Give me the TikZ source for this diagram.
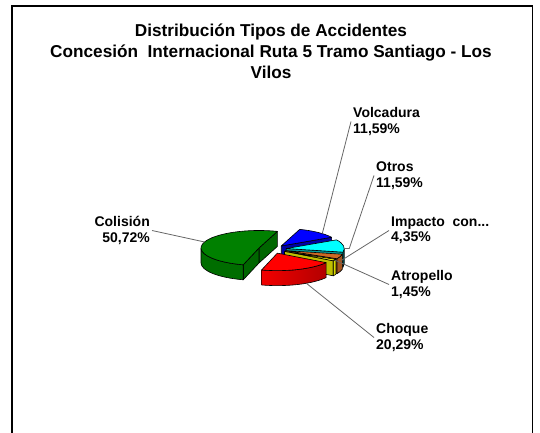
\documentclass[tikz,border=0pt]{standalone}
\usepackage{fontspec}
\setmainfont{Liberation Sans}
\usetikzlibrary{positioning}

\definecolor{cgreen}{RGB}{0,128,0}
\definecolor{cblue}{RGB}{0,0,255}
\definecolor{ccyan}{RGB}{0,255,255}
\definecolor{cbrown}{RGB}{205,105,35}
\definecolor{cyellow}{RGB}{255,255,0}
\definecolor{cred}{RGB}{255,0,0}

\tikzset{
  face/.style={draw=black, line width=0.6pt, line join=round},
  rim/.style={x radius=58pt, y radius=17.5pt},
  leader/.style={draw=black!60, line width=0.8pt},
  lbl/.style={font=\bfseries\fontsize{14}{15.5}\selectfont, inner sep=2pt},
  ttl/.style={font=\bfseries\fontsize{17.2}{20.8}\selectfont, inner sep=0pt, align=center},
}

\begin{document}
\begin{tikzpicture}[x=1pt, y=1pt]
    \useasboundingbox (0,0) rectangle (540,432);
    \clip (0,0) rectangle (540,432);

    % frame and title
    \draw[line width=1.8pt] (12,-10) rectangle (532.5,426);
    \node[ttl, anchor=north] (title) at (271,408)
        {Distribución Tipos de Accidentes\\Concesión\ \ Internacional Ruta 5 Tramo Santiago - Los\\Vilos};

    \begin{scope}[shift={(272.4,182.8)}]

        % Volcadura
        \begin{scope}[shift={(50.65:14pt and 4.2pt)}]
            \filldraw[face, fill=cblue!65!black] (0,0) -- (29.8:58pt and 17.5pt) -- ++(0,-15) -- (0,-15) -- cycle;
            \filldraw[face, fill=cblue] (0,0) -- (29.8:58pt and 17.5pt)
                arc[start angle=29.8, end angle=71.5, rim] -- cycle;
            \coordinate (pVolc) at (45:58pt and 17.5pt);
        \end{scope}

        % Colision
        \begin{scope}[shift={(162.85:14pt and 4.2pt)}]
            \filldraw[face, fill=cgreen!80!black] (0,0) -- (71.5:58pt and 17.5pt) -- ++(0,-15) -- (0,-15) -- cycle;
            \filldraw[face, fill=cgreen!80!black] (0,0) -- (254.2:58pt and 17.5pt) -- ++(0,-15) -- (0,-15) -- cycle;
            \filldraw[face, fill=cgreen!85!black] (180:58pt and 17.5pt)
                arc[start angle=180, end angle=254.2, rim] -- ++(0,-15)
                arc[start angle=254.2, end angle=180, rim] -- cycle;
            \filldraw[face, fill=cgreen] (0,0) -- (71.5:58pt and 17.5pt)
                arc[start angle=71.5, end angle=254.2, rim] -- cycle;
            \coordinate (pColis) at (160:58pt and 17.5pt);
        \end{scope}

        % Otros
        \begin{scope}[shift={(8.95:14pt and 4.2pt)}]
            \filldraw[face, fill=ccyan!60!black] (0,0) -- (-11.9:58pt and 17.5pt) -- ++(0,-15) -- (0,-15) -- cycle;
            \filldraw[face, fill=ccyan!75!black] (-11.9:58pt and 17.5pt)
                arc[start angle=-11.9, end angle=0, rim] -- ++(0,-15)
                arc[start angle=0, end angle=-11.9, rim] -- cycle;
            \filldraw[face, fill=ccyan] (0,0) -- (-11.9:58pt and 17.5pt)
                arc[start angle=-11.9, end angle=29.8, rim] -- cycle;
            \coordinate (pOtros) at (0:58pt and 17.5pt);
        \end{scope}

        % Impacto con...
        \begin{scope}[shift={(-19.75:14pt and 4.2pt)}]
            \filldraw[face, fill=cbrown!75!black] (0,0) -- (-27.6:58pt and 17.5pt) -- ++(0,-15) -- (0,-15) -- cycle;
            \filldraw[face, fill=cbrown!80!black] (-27.6:58pt and 17.5pt)
                arc[start angle=-27.6, end angle=-11.9, rim] -- ++(0,-15)
                arc[start angle=-11.9, end angle=-27.6, rim] -- cycle;
            \filldraw[face, fill=cbrown] (0,0) -- (-27.6:58pt and 17.5pt)
                arc[start angle=-27.6, end angle=-11.9, rim] -- cycle;
            \coordinate (pImpac) at (-16:58pt and 17.5pt);
        \end{scope}

        % Atropello
        \begin{scope}[shift={(-30.2:14pt and 4.2pt)}]
            \filldraw[face, fill=cyellow!75!black] (0,0) -- (-32.8:58pt and 17.5pt) -- ++(0,-15) -- (0,-15) -- cycle;
            \filldraw[face, fill=cyellow!85!black] (-32.8:58pt and 17.5pt)
                arc[start angle=-32.8, end angle=-27.6, rim] -- ++(0,-15)
                arc[start angle=-27.6, end angle=-32.8, rim] -- cycle;
            \filldraw[face, fill=cyellow] (0,0) -- (-32.8:58pt and 17.5pt)
                arc[start angle=-32.8, end angle=-27.6, rim] -- cycle;
            \coordinate (pAtrop) at (-30:58pt and 17.5pt);
        \end{scope}

        % Choque
        \begin{scope}[shift={(-69.3:14pt and 4.2pt)}]
            \draw[face, left color=cred!95!black, right color=cred!70!black] (-105.8:58pt and 17.5pt)
                arc[start angle=-105.8, end angle=-32.8, rim] -- ++(0,-15)
                arc[start angle=-32.8, end angle=-105.8, rim] -- cycle;
            \filldraw[face, fill=cred] (0,0) -- (-105.8:58pt and 17.5pt)
                arc[start angle=-105.8, end angle=-32.8, rim] -- cycle;
            \coordinate (pChoq) at (-60:58pt and 17.5pt);
        \end{scope}
    \end{scope}

    % Labels
    \node[lbl, align=left, anchor=west] (lVolc) at (351,310.5) {Volcadura\\11,59\%};
    \node[lbl, align=left, anchor=west] (lOtros) at (374,256.5) {Otros\\11,59\%};
    \node[lbl, align=left, anchor=west] (lImpac) at (389,201.5) {Impacto\ \ con...\\4,35\%};
    \node[lbl, align=left, anchor=west] (lAtrop) at (389,147.5) {Atropello\\1,45\%};
    \node[lbl, align=left, anchor=west] (lChoq) at (374,94.5) {Choque\\20,29\%};
    \node[lbl, align=right, anchor=east] (lColis) at (152,201.5) {Colisión\\50,72\%};

    % Leader lines
    \draw[leader] (pVolc) -- (lVolc.west);
    \draw[leader] (pOtros) -- ++(5,0) -- (lOtros.west);
    \draw[leader] ([yshift=-5pt]pImpac) -- (lImpac.west);
    \draw[leader] (pAtrop) -- (lAtrop.west);
    \draw[leader] ([yshift=-15pt]pChoq) -- (lChoq.west);
    \draw[leader] (pColis) -- (lColis.east);

\end{tikzpicture}
\end{document}
